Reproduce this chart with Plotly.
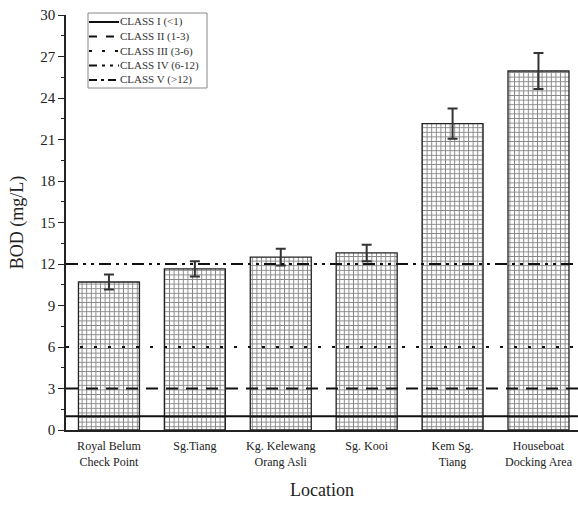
import plotly.graph_objects as go

locations = ["Royal Belum<br>Check Point", "Sg.Tiang", "Kg. Kelewang<br>Orang Asli",
             "Sg. Kooi", "Kem Sg.<br>Tiang", "Houseboat<br>Docking Area"]
bod = [10.7, 11.65, 12.5, 12.8, 22.15, 25.95]
bod_err = [0.55, 0.55, 0.6, 0.6, 1.1, 1.3]

class_names = ["CLASS I (<1)", "CLASS II (1-3)", "CLASS III (3-6)", "CLASS IV (6-12)", "CLASS V (>12)"]
class_values = [1, 3, 6, 12, 12]
class_dashes = ["solid", "12px,8px", "3px,11px", "12px,5px,3px,5px,3px,5px", "12px,5px,3px,13px"]
legend_dashes = ["solid", "8px,9px", "3px,10px", "8px,5px,3px,5px,3px,5px", "8px,4px,3px,4px"]

FONT = "Liberation Serif"

# plot area geometry in pixels (for the hand-built legend box)
W, H = 578, 516
ML, MR, MT, MB = 66, 0, 15, 86
PW, PH = W - ML - MR, H - MT - MB


def px_x(px):
    return (px - ML) / PW


def px_y(py):
    return (H - MB - py) / PH


fig = go.Figure()
fig.add_trace(go.Bar(
    x=list(range(len(locations))), y=bod,
    width=0.71,
    marker=dict(color="white", line=dict(color="#222", width=1.3),
                pattern=dict(shape="+", size=4.6, solidity=0.38, fgcolor="#111", bgcolor="white")),
    error_y=dict(type="data", array=bod_err, visible=True, color="#333", thickness=2, width=5),
    showlegend=False,
))

for name, val, dash in zip(class_names, class_values, class_dashes):
    fig.add_shape(type="line", xref="x domain", yref="y", x0=0, x1=1, y0=val, y1=val,
                  line=dict(color="#111", width=2, dash=dash), layer="above")

# legend box
fig.add_shape(type="rect", xref="paper", yref="paper",
              x0=px_x(88), x1=px_x(207), y0=px_y(88), y1=px_y(13),
              line=dict(color="#888", width=1), fillcolor="white", layer="above")
for i, (name, dash) in enumerate(zip(class_names, legend_dashes)):
    yy = px_y(22 + i * 14.5)
    fig.add_shape(type="line", xref="paper", yref="paper",
                  x0=px_x(89), x1=px_x(119), y0=yy, y1=yy,
                  line=dict(color="#111", width=2, dash=dash), layer="above")
    fig.add_annotation(xref="paper", yref="paper", x=px_x(118), y=yy, text=name,
                       showarrow=False, xanchor="left", yanchor="middle",
                       font=dict(family=FONT, size=11, color="#333"))

fig.update_layout(
    width=W, height=H,
    margin=dict(l=ML, r=MR, t=MT, b=MB),
    plot_bgcolor="white", paper_bgcolor="white",
    font=dict(family=FONT, color="#222"),
    showlegend=False,
    xaxis=dict(range=[-0.5, 5.46], tickmode="array", tickvals=list(range(len(locations))),
               ticktext=locations, showline=True, linecolor="#222", linewidth=1.5,
               ticks="", showgrid=False, zeroline=False, tickfont=dict(size=12),
               ticklabelstandoff=4,
               title=dict(text="Location", font=dict(size=18), standoff=16)),
    yaxis=dict(range=[0, 30], dtick=3, tick0=0, showline=True, linecolor="#222", linewidth=1.5,
               ticks="outside", ticklen=6, tickwidth=1.2, tickcolor="#222",
               minor=dict(dtick=1.5, ticks="outside", ticklen=3, tickcolor="#222", showgrid=False),
               showgrid=False, zeroline=False, tickfont=dict(size=15),
               title=dict(text="BOD (mg/L)", font=dict(size=18), standoff=12)),
)

fig.write_html("out.html")
